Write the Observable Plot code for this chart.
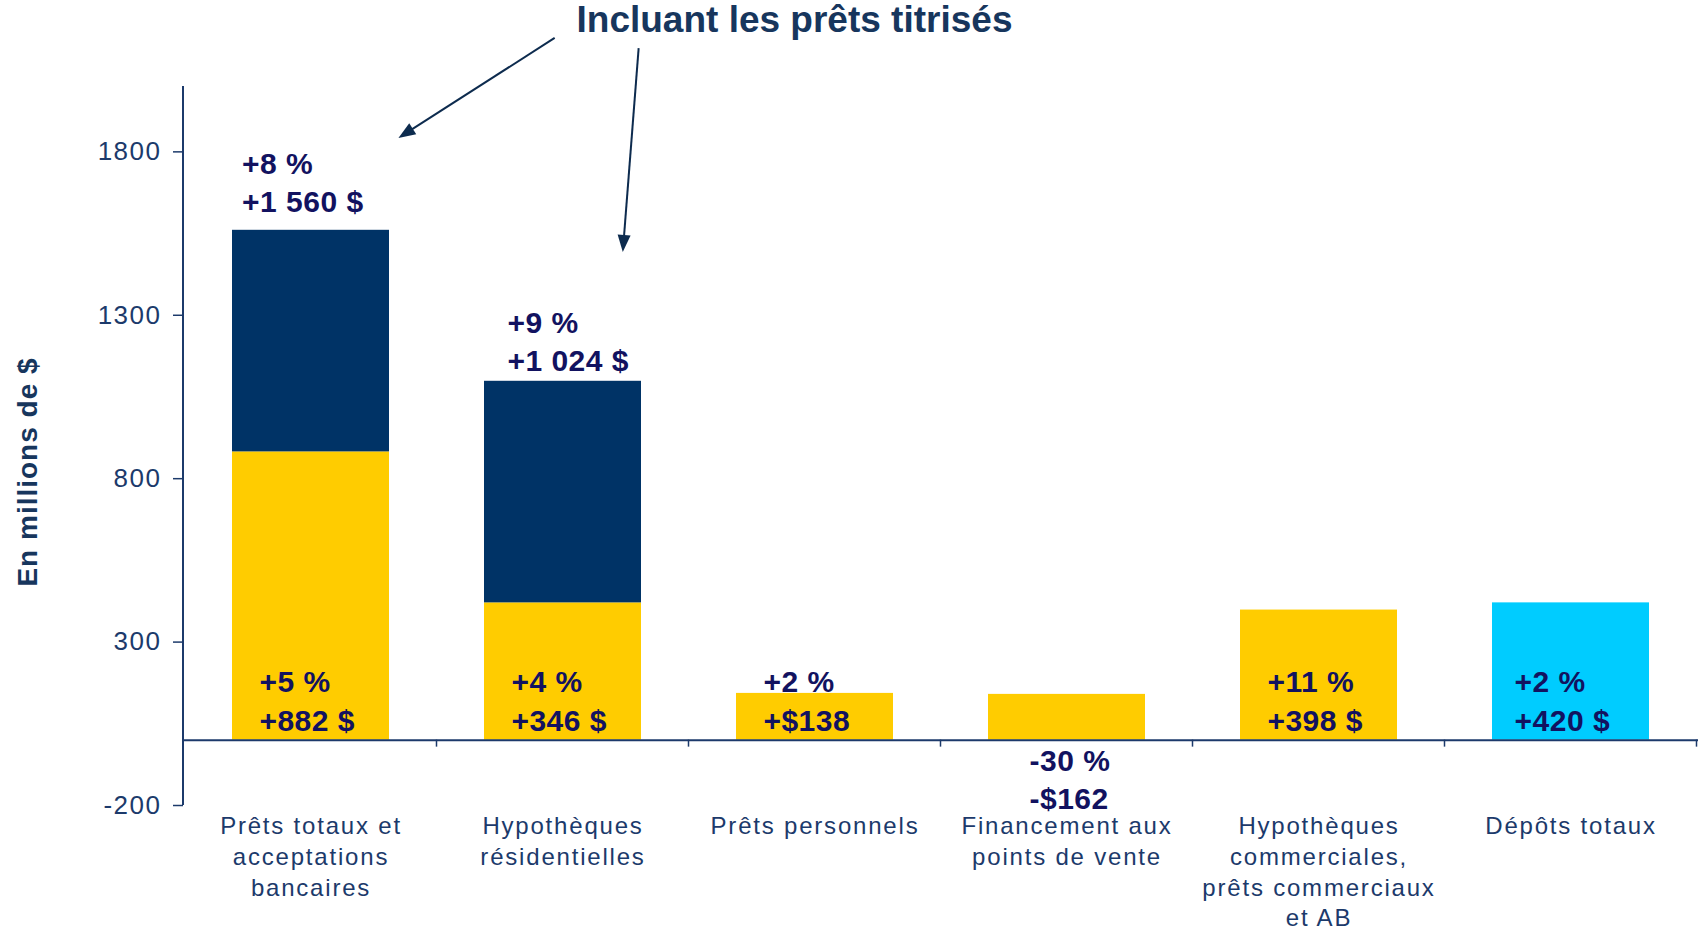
<!DOCTYPE html>
<html>
<head>
<meta charset="utf-8">
<script src="https://cdn.jsdelivr.net/npm/d3@7"></script>
<script src="https://cdn.jsdelivr.net/npm/@observablehq/plot@0.6"></script>
<style>
  html, body { margin: 0; padding: 0; background: #fff; }
  #chart svg { display: block; }
  g[aria-label="y-axis tick label"] text { letter-spacing: 1.5px; }
  text[aria-label="x-label"] { letter-spacing: 1.8px; }
  text[aria-label="y-title"] { letter-spacing: 1px; }
  text[aria-label="value-label"] { letter-spacing: 0.5px; }
</style>
</head>
<body>
<div id="chart"></div>
<script>
// ---- Data ----
const categories = [
  "Prêts totaux et acceptations bancaires",
  "Hypothèques résidentielles",
  "Prêts personnels",
  "Financement aux points de vente",
  "Hypothèques commerciales, prêts commerciaux et AB",
  "Dépôts totaux"
];
const categoryLabels = [
  "Prêts totaux et\nacceptations\nbancaires",
  "Hypothèques\nrésidentielles",
  "Prêts personnels",
  "Financement aux\npoints de vente",
  "Hypothèques\ncommerciales,\nprêts commerciaux\net AB",
  "Dépôts totaux"
];
const baseSeries = ["Prêts", "Prêts", "Prêts", "Prêts", "Prêts", "Dépôts"];
const baseValues = [882, 420, 143, 140, 398, 420];
const securitizedValues = [678, 678, 0, 0, 0, 0];
const pctLabels = ["+5 %", "+4 %", "+2 %", "-30 %", "+11 %", "+2 %"];
const amountLabels = ["+882 $", "+346 $", "+$138", "-$162", "+398 $", "+420 $"];
const totalPctLabels = ["+8 %", "+9 %"];
const totalAmountLabels = ["+1 560 $", "+1 024 $"];
const seriesNames = ["Prêts", "Prêts titrisés", "Dépôts"];
const yTicks = [-200, 300, 800, 1300, 1800];
const titleText = "Incluant les prêts titrisés";
const yTitle = "En millions de $";

// ---- Styles ----
const seriesColors = ["#FFCC00", "#003366", "#00CCFF"];
const axisColor = "#1c3a6b";
const labelColor = "#121260";
const titleColor = "#17365d";
const font = "'Liberation Sans', Arial, Helvetica, sans-serif";

// ---- Tables ----
const stackRows = [];
categories.forEach((c, i) => {
  stackRows.push({category: c, series: baseSeries[i], value: baseValues[i]});
  if (securitizedValues[i] > 0) stackRows.push({category: c, series: "Prêts titrisés", value: securitizedValues[i]});
});
const rows = categories.map((c, i) => ({
  category: c, label: categoryLabels[i], pct: pctLabels[i], amount: amountLabels[i],
  total: baseValues[i] + securitizedValues[i]
}));
const topRows = rows.slice(0, 2).map((r, i) => ({...r, tpct: totalPctLabels[i], tamount: totalAmountLabels[i]}));
const inside = rows.filter((r, i) => i !== 3 && i !== 5);
const deposit = rows.filter((r, i) => i === 5);
const below = rows.filter((r, i) => i === 3);

// ---- Decorations drawn through the scales ----
function decorations(index, scales, values, dims) {
  const {x, y} = scales;
  const g = d3.create("svg:g");
  const bw = x.bandwidth(), step = x.step();
  g.append("line")
    .attr("x1", dims.marginLeft).attr("x2", dims.marginLeft)
    .attr("y1", y(-200)).attr("y2", y(2000))
    .attr("stroke", axisColor).attr("stroke-width", 2);
  for (const c of categories) {
    const xr = x(c) + (bw + step) / 2;
    g.append("line")
      .attr("x1", xr).attr("x2", xr)
      .attr("y1", y(0)).attr("y2", y(0) + 7)
      .attr("stroke", axisColor).attr("stroke-width", 1.5);
  }
  const pos = (c, f) => x(c) + f * bw;
  const arrows = [
    [pos(categories[1], 0.45), y(2147), pos(categories[0], 1.06), y(1841)],
    [pos(categories[1], 0.985), y(2116), pos(categories[1], 0.884), y(1492)]
  ];
  for (const [x1, y1, x2, y2] of arrows) {
    const dx = x2 - x1, dy = y2 - y1, len = Math.hypot(dx, dy);
    const ux = dx / len, uy = dy / len;
    const hl = 17, hw = 6.5;
    const bx = x2 - ux * hl, by = y2 - uy * hl;
    g.append("line")
      .attr("x1", x1).attr("y1", y1).attr("x2", bx + ux * 2).attr("y2", by + uy * 2)
      .attr("stroke", "#0d2b4e").attr("stroke-width", 2);
    g.append("polygon")
      .attr("points", `${x2},${y2} ${bx - uy * hw},${by + ux * hw} ${bx + uy * hw},${by - ux * hw}`)
      .attr("fill", "#0d2b4e");
  }
  return g.node();
}

const valueText = (data, text, dx, dy, y = 0) => Plot.text(data, {
  x: "category", y, text, textAnchor: "start", dx, dy,
  fontSize: 30, fontWeight: "bold", fill: labelColor, ariaLabel: () => "value-label"
});

const plot = Plot.plot({
  width: 1701,
  height: 930,
  marginTop: 86,
  marginBottom: 125,
  marginLeft: 183,
  marginRight: 3,
  style: {fontFamily: font, background: "#ffffff", color: axisColor, overflow: "visible"},
  x: {type: "band", domain: categories, paddingInner: 0.377, paddingOuter: 0.1885, axis: null},
  y: {domain: [-200, 2000], axis: null},
  color: {domain: seriesNames, range: seriesColors},
  marks: [
    Plot.barY(stackRows, {x: "category", y: "value", fill: "series"}),
    Plot.ruleY([0], {stroke: axisColor, strokeWidth: 2}),
    Plot.axisY({ticks: yTicks, tickFormat: (d) => String(d), tickSize: 10, tickPadding: 12, fontSize: 26,
      label: null, stroke: axisColor, strokeWidth: 1.5}),
    decorations,
    Plot.text(rows, {x: "category", y: -200, text: "label", lineAnchor: "top", dy: 7,
      lineHeight: 1.28, fontSize: 24, fill: axisColor, ariaLabel: () => "x-label"}),
    valueText(inside, "pct", -51.6, -58),
    valueText(inside, "amount", -51.6, -19),
    valueText(deposit, "pct", -56.5, -58),
    valueText(deposit, "amount", -56.5, -19),
    valueText(below, "pct", -37.5, 21),
    valueText(below, "amount", -37.5, 59),
    valueText(topRows.slice(0, 1), "tpct", -69, -66, "total"),
    valueText(topRows.slice(0, 1), "tamount", -69, -28, "total"),
    valueText(topRows.slice(1, 2), "tpct", -55.6, -58, "total"),
    valueText(topRows.slice(1, 2), "tamount", -55.6, -20, "total"),
    Plot.text([titleText], {frameAnchor: "top", lineAnchor: "middle", dx: -146.5, dy: -66, fontSize: 37,
      fontWeight: "bold", fill: titleColor}),
    Plot.text([yTitle], {frameAnchor: "left", textAnchor: "middle", lineAnchor: "middle", rotate: -90,
      dx: -155, dy: 26, fontSize: 28, fontWeight: "bold", fill: titleColor, ariaLabel: () => "y-title"})
  ]
});
document.getElementById("chart").appendChild(plot);
</script>
</body>
</html>
